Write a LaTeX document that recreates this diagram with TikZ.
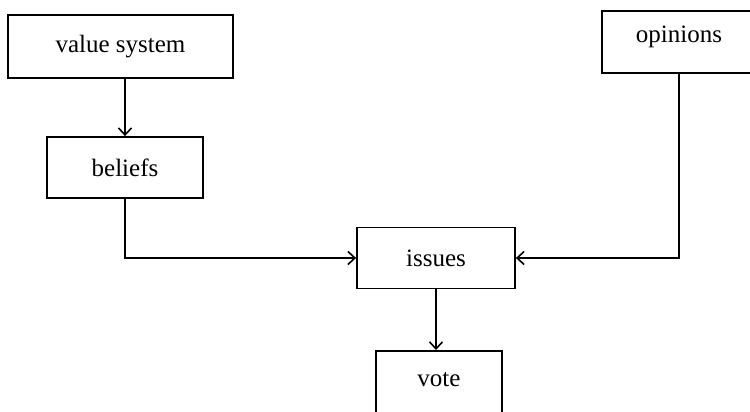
\documentclass[tikz,border=0pt]{standalone}
\usepackage{fontspec}
\setmainfont{Liberation Serif}
\usetikzlibrary{arrows.meta}
\begin{document}
\begin{tikzpicture}[x=1pt,y=-1pt,
  lbl/.style={font=\fontsize{25}{29}\selectfont},
  box/.style={draw, line width=1.8pt, inner sep=0pt, lbl},
  arr/.style={line width=1.8pt, -{Straight Barb[length=7pt,width=13pt,line width=1.6pt]}}]
\useasboundingbox (0,0) rectangle (750,412);
\clip (0,0) rectangle (750,412);
\node[box, minimum width=225pt, minimum height=63pt] (vs) at (120.5,46.5) {value system};
\node[box, minimum width=156pt, minimum height=61pt] (bel) at (125,167.5) {beliefs};
\node[box, minimum width=158pt, minimum height=61pt] (iss) at (436,258) {issues};
\node[box, minimum width=126pt, minimum height=120pt, anchor=north] (vote) at (439,350) {};
\node[lbl] (votetxt) at (439,380) {vote};
\node[box, minimum width=154pt, minimum height=62pt] (op) at (679,42) {};
\node[lbl] (optxt) at (679,37) {opinions};
\draw[arr] (vs.south -| bel.north) -- (bel.north);
\draw[arr] (bel.south) |- (iss.west);
\draw[arr] (iss.south) -- (iss.south |- vote.north);
\draw[arr] (op.south) |- (iss.east);
\end{tikzpicture}
\end{document}
